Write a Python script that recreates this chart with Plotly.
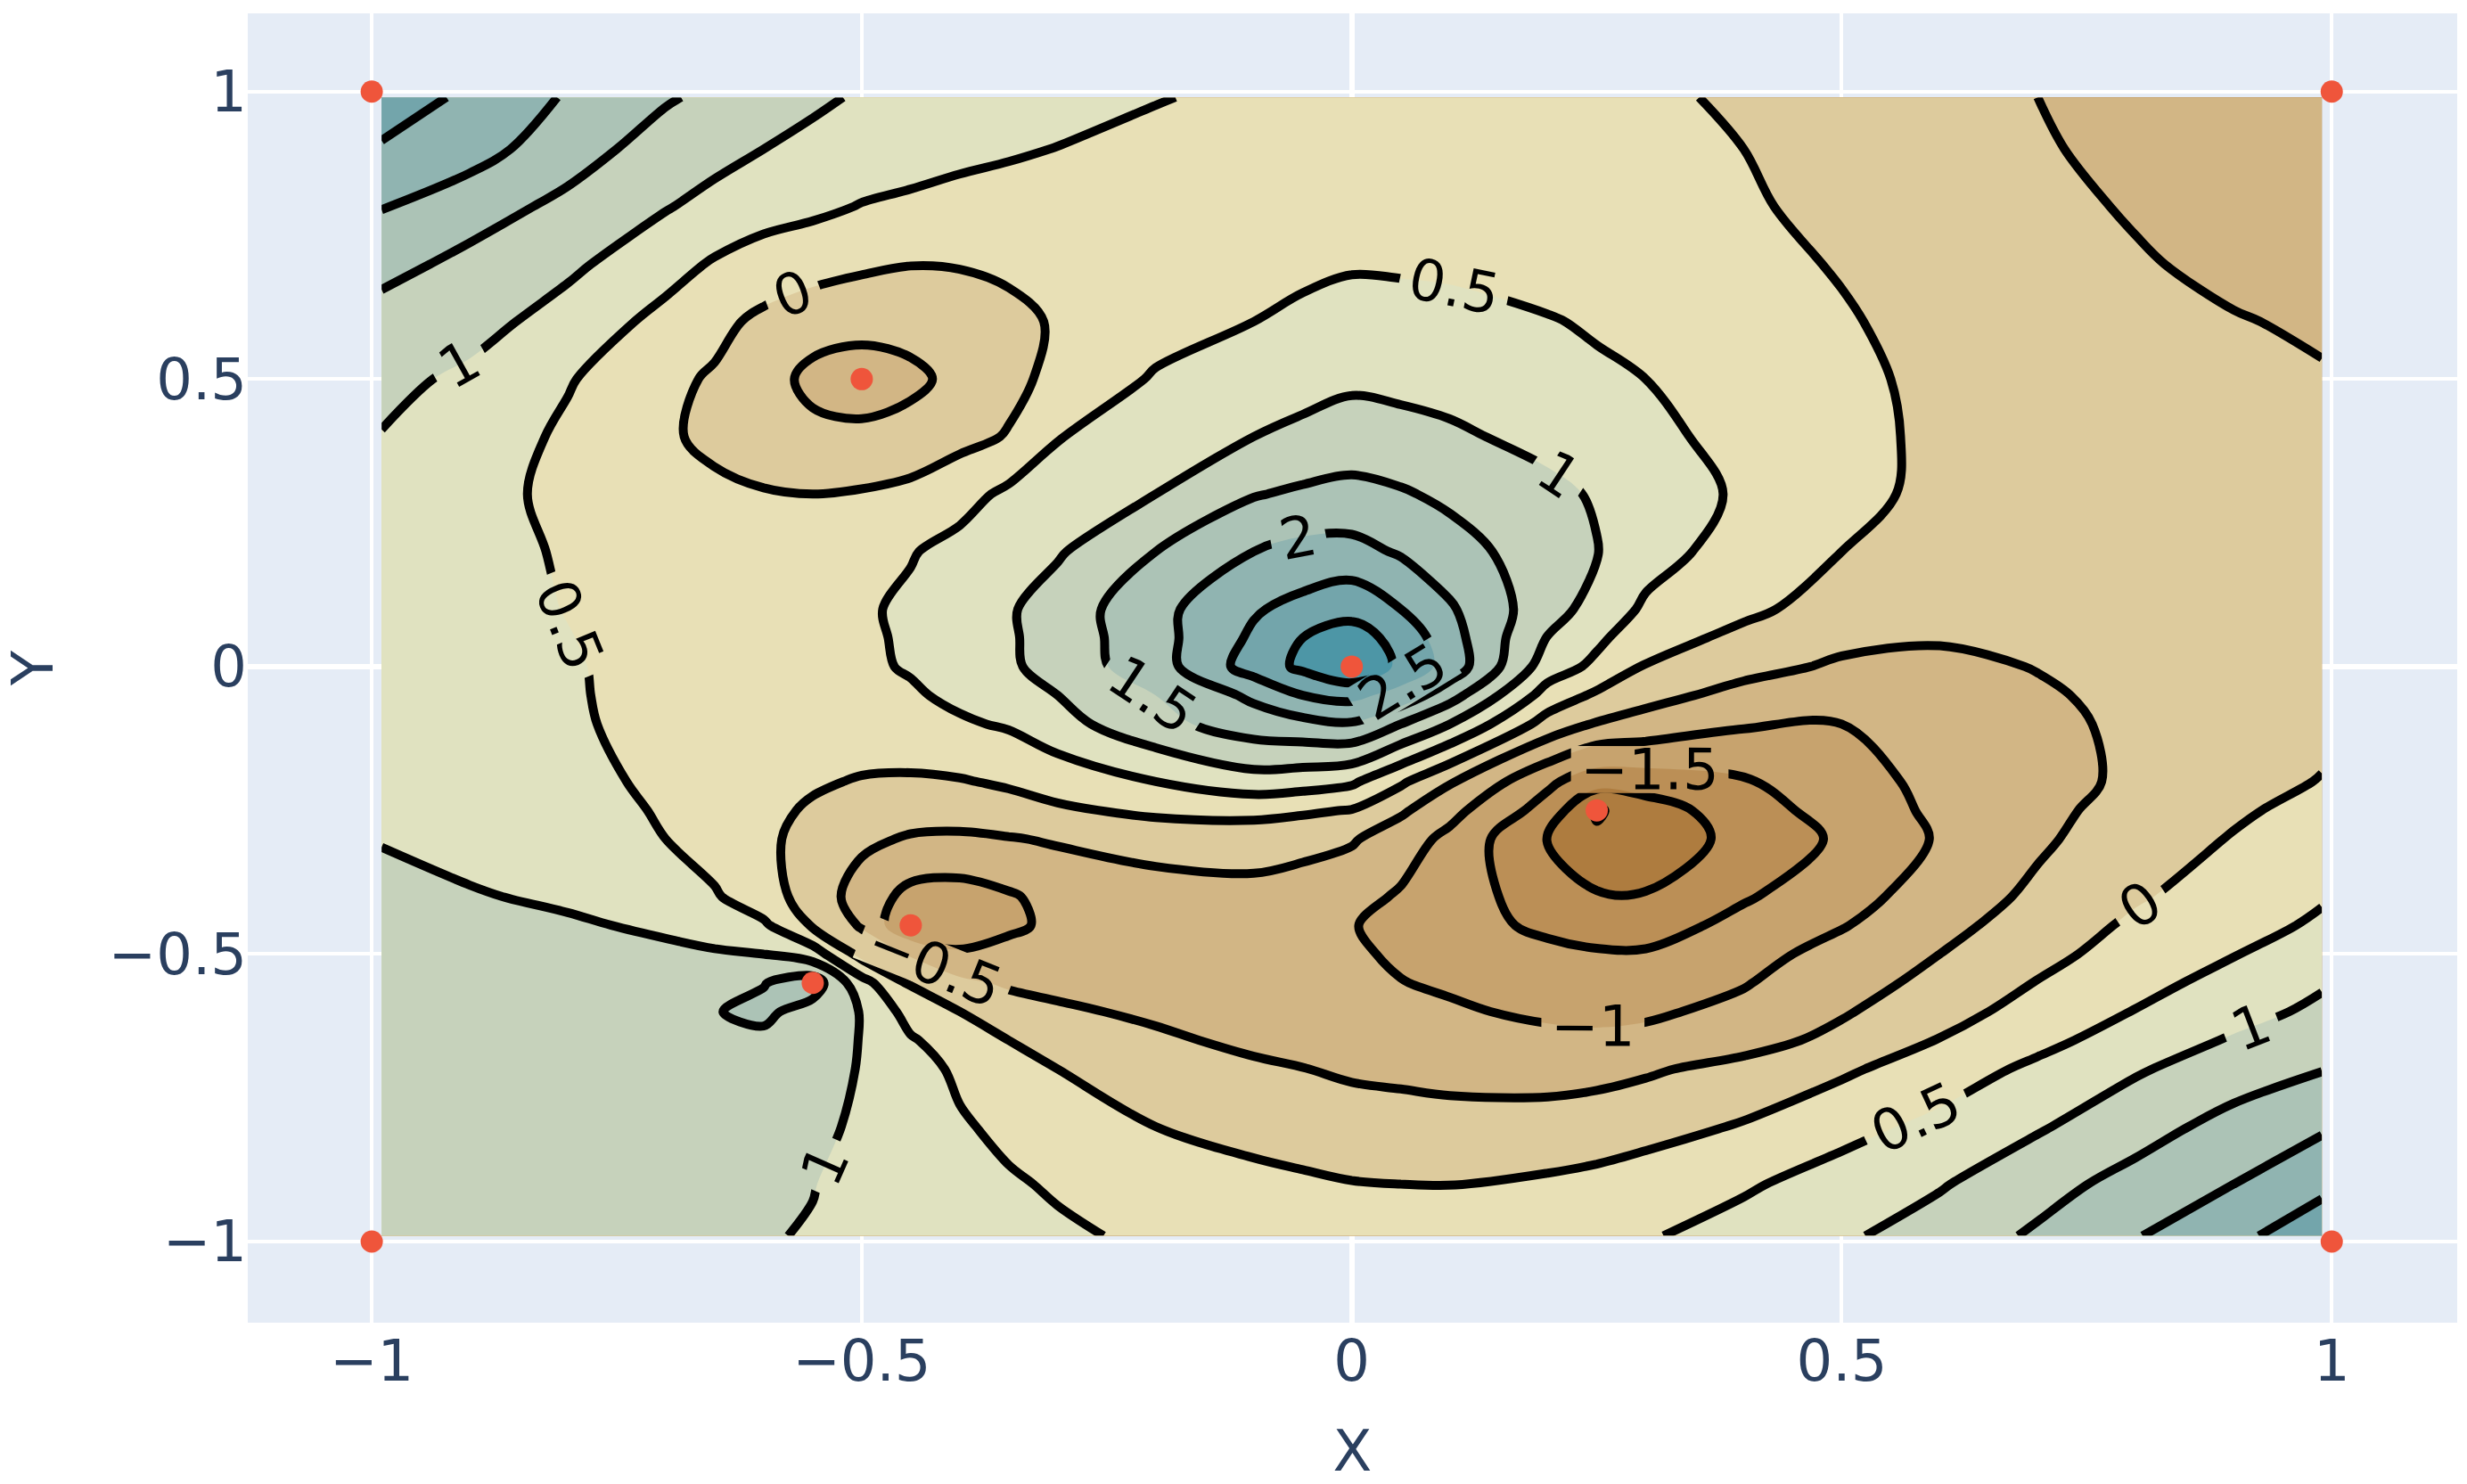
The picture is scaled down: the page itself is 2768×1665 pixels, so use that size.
import plotly.graph_objects as go

# Grid coordinates of the estimated surface
x_grid = [-.99,-.9,-.8,-.7,-.65,-.6,-.55,-.5,-.45,-.4,-.35,-.3,-.2,-.1,-.05,0,.05,.1,.2,.25,.3,.4,.5,.6,.7,.8,.9,.99]
y_grid = [.99,.9,.8,.7,.6,.5,.4,.3,.2,.1,.05,0,-.05,-.1,-.2,-.25,-.3,-.4,-.45,-.5,-.55,-.6,-.65,-.7,-.8,-.9,-.99]

# Values, one row per y_grid entry
row_p99 = [2.75,2.41,1.95,1.55,1.39,1.23,1.08,.95,.88,.81,.74,.67,.52,.42,.375,.33,.285,.24,.15,.105,.06,-.05,-.2,-.36,-.5,-.62,-.72,-.8]
row_p90 = [2.45,2.2,1.72,1.28,1.16,1.0,.88,.76,.66,.6,.55,.49,.39,.31,.275,.24,.205,.17,.11,.08,.05,0,-.14,-.28,-.47,-.58,-.7,-.79]
row_p80 = [2.02,1.72,1.38,1.03,.85,.7,.6,.48,.43,.37,.32,.27,.2,.16,.145,.13,.12,.11,.09,.075,.06,.045,-.1,-.22,-.36,-.55,-.69,-.78]
row_p70 = [1.66,1.37,1.1,.68,.45,.28,.2,.08,.01,.02,.07,.12,.22,.3,.38,.45,.43,.4,.3,.25,.2,.12,-.03,-.2,-.32,-.45,-.62,-.74]
row_p60 = [1.3,1.18,.8,.36,.12,-.1,-.3,-.35,-.3,-.2,-.1,.04,.3,.5,.62,.72,.71,.68,.53,.445,.36,.2,.04,-.14,-.27,-.38,-.47,-.57]
row_p50 = [1.14,.9,.54,.1,-.05,-.3,-.62,-.72,-.62,-.35,-.12,.12,.55,.75,.84,.92,.88,.82,.66,.58,.5,.3,.1,-.1,-.2,-.28,-.37,-.46]
row_p40 = [.98,.8,.41,.06,-.1,-.25,-.38,-.4,-.3,-.14,.03,.48,.76,1.0,1.1,1.2,1.15,1.08,.86,.74,.62,.35,.12,-.08,-.16,-.22,-.32,-.37]
row_p30 = [.85,.7,.36,.16,.09,.03,0,.04,.12,.32,.6,.72,1.0,1.47,1.58,1.65,1.55,1.4,1.12,.95,.8,.42,.1,-.08,-.14,-.22,-.29,-.34]
row_p20 = [.78,.64,.46,.3,.27,.26,.28,.35,.47,.65,.8,.95,1.5,2.0,2.15,2.15,1.95,1.7,1.24,1.02,.7,.28,0,-.1,-.17,-.22,-.26,-.3]
row_p10 = [.74,.62,.49,.38,.36,.35,.37,.44,.58,.75,.95,1.22,1.85,2.45,2.65,2.85,2.5,2.06,1.2,.82,.42,.1,-.2,-.27,-.25,-.25,-.25,-.26]
row_p05 = [.73,.615,.51,.38,.365,.36,.375,.43,.56,.75,.94,1.21,1.82,2.58,3.0,3.2,2.85,2.2,.98,.6,.2,-.12,-.38,-.45,-.37,-.3,-.27,-.25]
row_00 = [.72,.61,.53,.38,.37,.37,.38,.42,.54,.75,.92,1.2,1.78,2.72,3.1,3.45,2.9,2.3,.75,.39,-.03,-.35,-.57,-.63,-.48,-.34,-.28,-.25]
row_m05 = [.73,.62,.54,.37,.34,.315,.3,.335,.44,.6,.74,1.0,1.5,2.1,2.5,2.65,2.3,1.7,.3,-.08,-.35,-.65,-.8,-.77,-.57,-.36,-.24,-.18]
row_m10 = [.74,.63,.56,.36,.31,.26,.22,.25,.33,.44,.55,.82,1.35,1.75,1.85,1.95,1.5,1.0,-.2,-.54,-.68,-.95,-1.0,-.9,-.65,-.38,-.2,-.12]
row_m20 = [.82,.7,.62,.42,.29,.17,.05,-.03,-.06,-.03,.06,.2,.5,.8,.72,.58,.08,-.45,-1.4,-1.8,-1.75,-1.55,-1.18,-.88,-.65,-.42,-.17,.02]
row_m25 = [.89,.74,.63,.47,.31,.1,-.05,-.2,-.28,-.28,-.18,-.07,.1,.13,.07,-.02,-.42,-.85,-1.7,-2.55,-2.25,-1.72,-1.3,-.9,-.62,-.33,-.07,.15]
row_m30 = [.97,.8,.65,.5,.28,.07,-.12,-.4,-.55,-.58,-.53,-.45,-.3,-.25,-.33,-.45,-.78,-1.12,-2.03,-2.42,-2.3,-1.85,-1.42,-.95,-.57,-.25,.03,.3]
row_m40 = [1.18,1.05,.9,.66,.55,.2,-.2,-.72,-1.15,-1.2,-1.05,-.85,-.72,-.67,-.75,-.85,-1.05,-1.3,-1.7,-1.95,-1.97,-1.55,-1.2,-.75,-.41,-.05,.22,.47]
row_m45 = [1.28,1.18,1.08,.9,.7,.58,-.05,-.55,-1.5,-1.25,-1.1,-.88,-.8,-.82,-.9,-.98,-1.12,-1.3,-1.6,-1.7,-1.72,-1.35,-1.03,-.65,-.27,.08,.38,.55]
row_m50 = [1.35,1.28,1.2,1.12,1.07,1.0,.73,-.15,-.55,-.95,-.82,-.78,-.75,-.82,-.88,-.95,-1.05,-1.15,-1.38,-1.45,-1.45,-1.17,-.83,-.5,-.14,.2,.48,.75]
row_m55 = [1.38,1.33,1.28,1.23,1.26,1.48,1.75,.67,-.05,-.38,-.58,-.62,-.66,-.74,-.83,-.93,-.99,-1.05,-1.22,-1.25,-1.22,-1.03,-.7,-.36,.02,.33,.68,.95]
row_m60 = [1.38,1.35,1.32,1.35,1.48,1.6,1.3,.98,.3,0,-.25,-.43,-.58,-.7,-.76,-.82,-.88,-.95,-1.07,-1.1,-1.07,-.88,-.55,-.18,.18,.52,.83,1.1]
row_m65 = [1.35,1.33,1.3,1.3,1.33,1.4,1.25,.98,.55,.25,0,-.18,-.42,-.6,-.66,-.72,-.77,-.82,-.9,-.92,-.88,-.68,-.37,.02,.37,.72,1.05,1.3]
row_m70 = [1.32,1.3,1.28,1.27,1.25,1.22,1.13,.98,.68,.42,.2,0,-.25,-.42,-.49,-.56,-.59,-.62,-.65,-.63,-.56,-.35,-.08,.26,.6,.95,1.25,1.48]
row_m80 = [1.27,1.25,1.23,1.2,1.17,1.13,1.07,.95,.72,.55,.4,.25,0,-.18,-.24,-.3,-.33,-.36,-.34,-.28,-.18,.04,.35,.62,.95,1.3,1.67,1.93]
row_m90 = [1.22,1.2,1.17,1.13,1.1,1.05,1.01,.9,.77,.65,.55,.45,.3,.15,.08,.02,0,-.01,.08,.15,.25,.44,.7,.96,1.32,1.67,2.0,2.4]
row_m99 = [1.18,1.15,1.11,1.07,1.05,1.02,.98,.89,.82,.73,.65,.57,.42,.3,.26,.24,.25,.27,.35,.4,.46,.68,.93,1.22,1.57,1.97,2.4,2.75]
z_rows = [row_p99,row_p90,row_p80,row_p70,row_p60,row_p50,row_p40,row_p30,row_p20,row_p10,row_p05,row_00,row_m05,
          row_m10,row_m20,row_m25,row_m30,row_m40,row_m45,row_m50,row_m55,row_m60,row_m65,row_m70,row_m80,row_m90,row_m99]

# Sample points
point_x = [-1,-1,1,1,0,-.5,-.45,-.55,.25]
point_y = [-1,1,-1,1,0,.5,-.45,-.55,-.25]

earth = ["#A16928","#bd925a","#d6bd8d","#edeac2","#b5c8b8","#79a7ac","#2887a1"]
FONT = "DejaVu Sans"

fig = go.Figure()
fig.add_trace(go.Contour(
    x=x_grid, y=y_grid, z=z_rows,
    colorscale=earth, showscale=False,
    contours=dict(start=-2.5, end=3.5, size=.5, showlabels=True,
                  labelfont=dict(family=FONT, size=64, color="black")),
    line=dict(color="black", width=10, smoothing=1.0),
))
fig.add_trace(go.Scatter(x=point_x, y=point_y, mode="markers",
                         marker=dict(color="#EF553B", size=25), showlegend=False))
fig.update_layout(
    width=2768, height=1665, autosize=False, template="plotly",
    margin=dict(l=278, r=11, t=15, b=181),
    font=dict(family=FONT, size=64, color="#2a3f5f"),
    showlegend=False,
    xaxis=dict(title=dict(text="X", standoff=66, font=dict(size=64)), range=[-1.1265, 1.128], dtick=.5, tick0=0,
               automargin=False, gridwidth=4, zerolinewidth=6, ticklen=0),
    yaxis=dict(title=dict(text="Y", standoff=66, font=dict(size=64)), range=[-1.141, 1.136], dtick=.5, tick0=0,
               automargin=False, gridwidth=4, zerolinewidth=6, ticklen=0),
)
fig.write_html("out.html", post_script="document.body.style.margin='0';", config={"displayModeBar": False})
